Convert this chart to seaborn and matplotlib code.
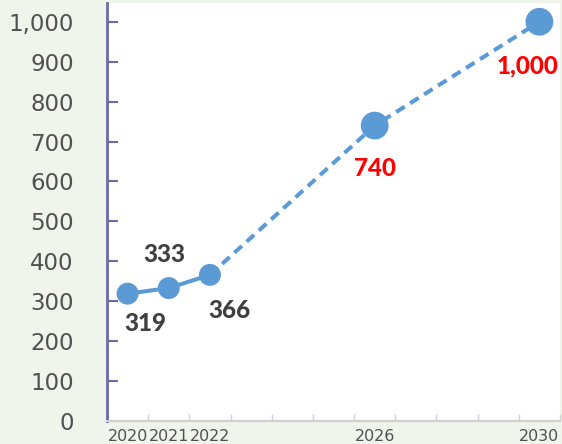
import matplotlib
matplotlib.use("Agg")
import matplotlib.pyplot as plt
import seaborn as sns
import pandas as pd
from matplotlib.ticker import FixedLocator, FuncFormatter

# Values per year (actual 2020-2022, targets 2026 and 2030)
years = [2020, 2021, 2022, 2026, 2030]
values = [319, 333, 366, 740, 1000]
label_texts = ["319", "333", "366", "740", "1,000"]
label_colors = ["#404040", "#404040", "#404040", "#FF0000", "#FF0000"]
# label offsets from each marker, in pixels
label_offsets = [(18, -30), (-4, 34), (20, -36), (0, -43), (-12, -44)]
tick_years = [2020, 2021, 2022, 2026, 2030]

df = pd.DataFrame({"year": years, "value": values})
actual = df.iloc[:3]
projected = df.iloc[2:]

sns.set_theme(style="white")
plt.rcParams["font.family"] = ["DejaVu Sans"]

blue = "#5B9BD5"
fig = plt.figure(figsize=(5.62, 4.44), dpi=100, facecolor="#F0F5EC")
ax = fig.add_axes([107 / 562, 23 / 444, 453 / 562, 418 / 444])
ax.set_facecolor("white")

sns.lineplot(data=actual, x="year", y="value", ax=ax, color=blue,
             linewidth=2.9, solid_capstyle="round", zorder=2)
sns.lineplot(data=projected, x="year", y="value", ax=ax, color=blue,
             linewidth=2.9, linestyle=(0, (2.5, 1.6)), zorder=2)
sns.scatterplot(data=actual, x="year", y="value", ax=ax, color=blue,
                s=250, edgecolor="none", zorder=3)
sns.scatterplot(data=df.iloc[3:], x="year", y="value", ax=ax, color=blue,
                s=400, edgecolor="none", zorder=3)

for x, y, t, c, (dx, dy) in zip(years, values, label_texts, label_colors, label_offsets):
    ax.annotate(t, (x, y), xytext=(dx, dy), textcoords="offset pixels",
                ha="center", va="center", fontsize=17.5, fontweight="black",
                color=c, family=["Lato", "DejaVu Sans"], zorder=4)

ax.set_xlim(2019.5, 2030.5)
ax.set_ylim(0, 1047)
ax.set_xlabel("")
ax.set_ylabel("")

ax.set_yticks(range(0, 1001, 100))
ax.yaxis.set_major_formatter(FuncFormatter(lambda v, p: f"{int(v):,}"))
ax.tick_params(axis="y", direction="in", length=8, width=1.5, color="#6B6BA8",
               labelsize=16.5, labelcolor="#505050", pad=24, left=True)

ax.xaxis.set_major_locator(FixedLocator(tick_years))
ax.set_xticklabels([str(y) for y in tick_years])
ax.xaxis.set_minor_locator(FixedLocator([y + 0.5 for y in range(2019, 2031)]))
ax.tick_params(axis="x", which="major", length=0, labelsize=11.4,
               labelcolor="#505050", pad=6)
ax.tick_params(axis="x", which="minor", direction="in", length=5, width=1,
               color="#D0D0D0", bottom=True)

for side in ["top", "right"]:
    ax.spines[side].set_visible(False)
ax.spines["left"].set_color("#6B6BA8")
ax.spines["left"].set_linewidth(2)
ax.spines["bottom"].set_color("#D0D0D0")
ax.spines["bottom"].set_linewidth(1.5)

fig.savefig("out.png", dpi=100, facecolor=fig.get_facecolor())
